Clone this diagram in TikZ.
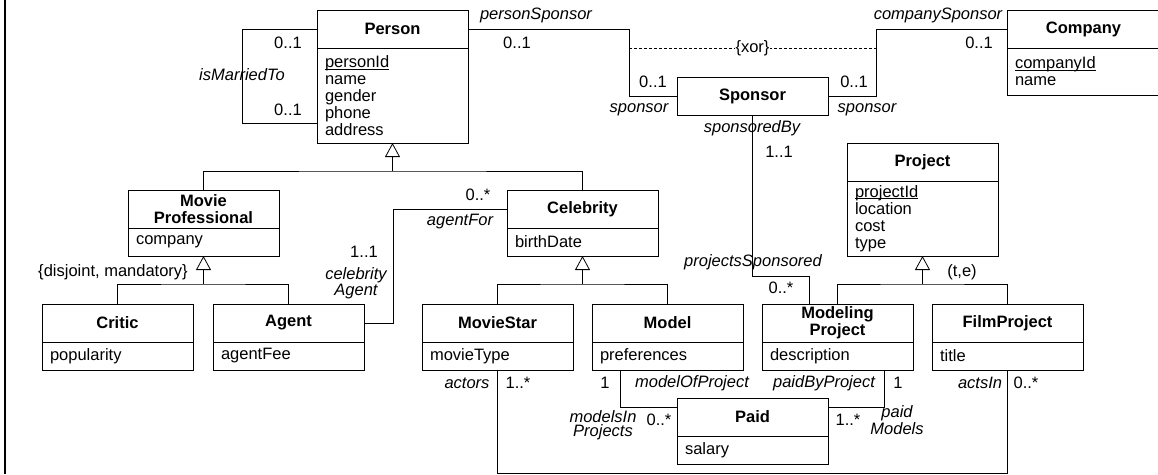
\documentclass[tikz,border=0pt]{standalone}
\usepackage{fontspec}
\setmainfont{Liberation Sans}
\usepackage{tikz}
\usetikzlibrary{arrows.meta,positioning,calc}

\newcommand{\umlfont}{\fontsize{16.5}{17}\selectfont}
\newcommand{\keyattr}[1]{\setbox0\hbox{#1}\rlap{\rule[-2pt]{\wd0}{0.8pt}}\box0}

\begin{document}
\begin{tikzpicture}[x=1pt,y=-1pt,line width=0.8pt,font=\umlfont,
  hdr/.style={draw,outer sep=0pt,inner sep=0pt,font=\umlfont\bfseries,align=center,
    minimum width=151,minimum height=38,anchor=north west},
  attr/.style={draw,outer sep=0pt,inner xsep=8pt,inner ysep=2pt,align=left,
    text width=135pt,minimum height=#1},
  attr/.default=28,
  mult/.style={inner sep=1pt},
  role/.style={font=\umlfont\itshape,inner sep=1pt},
  role2/.style={font=\fontsize{16.5}{14}\selectfont\itshape,align=center,inner sep=0pt},
  gen/.style={-{Triangle[open,length=14pt,width=15pt]}}]

\useasboundingbox (0,0) rectangle (1158,474);

% Frame
\draw[line width=1.5pt] (5,0) -- (5,474);

% Classes
\node[hdr] (person) at (317,10) {Person};
\node[attr=95,below=0pt of person] (personAttr) {\keyattr{personId}\\name\\gender\\phone\\address};
\node[hdr,minimum width=153] (company) at (1007,10) {Company};
\node[attr=47,text width=137pt,below=0pt of company] (companyAttr) {\keyattr{companyId}\\name};
\node[hdr] (sponsor) at (677,77) {Sponsor};
\node[hdr] (moviePro) at (128,190) {Movie\\Professional};
\node[attr,below=0pt of moviePro] (movieProAttr) {company};
\node[hdr] (celebrity) at (507,190) {Celebrity};
\node[attr,below=0pt of celebrity] (celebrityAttr) {birthDate};
\node[hdr] (project) at (847,143) {Project};
\node[attr=75,below=0pt of project] (projectAttr) {\keyattr{projectId}\\location\\cost\\type};
\node[hdr] (critic) at (42,304) {Critic};
\node[attr,below=0pt of critic] (criticAttr) {popularity};
\node[hdr] (agent) at (213,304) {Agent};
\node[attr,below=0pt of agent] (agentAttr) {agentFee};
\node[hdr] (movieStar) at (422,304) {MovieStar};
\node[attr,below=0pt of movieStar] (movieStarAttr) {movieType};
\node[hdr] (model) at (592,304) {Model};
\node[attr,below=0pt of model] (modelAttr) {preferences};
\node[hdr] (modelingProj) at (762,304) {Modeling\\Project};
\node[attr,below=0pt of modelingProj] (modelingProjAttr) {description};
\node[hdr] (filmProj) at (932,304) {FilmProject};
\node[attr,below=0pt of filmProj] (filmProjAttr) {title};
\node[hdr] (paid) at (677,398) {Paid};
\node[attr,below=0pt of paid] (paidAttr) {salary};

% Generalizations
\coordinate (personGen) at ($(personAttr.south)+(0,28)$);
\draw[gen] (personGen) -- (personAttr.south);
\draw (moviePro.north) |- (personGen) -| (celebrity.north);

\coordinate (movieProGen) at ($(movieProAttr.south)+(0,28)$);
\draw[gen] (movieProGen) -- (movieProAttr.south);
\draw (critic.north) |- (movieProGen) -| (agent.north);
\node[mult] (disjMand) at (113,272) {\{disjoint, mandatory\}};

\coordinate (celebrityGen) at ($(celebrityAttr.south)+(0,28)$);
\draw[gen] (celebrityGen) -- (celebrityAttr.south);
\draw (movieStar.north) |- (celebrityGen) -| (model.north);

\coordinate (projectGen) at ($(projectAttr.south)+(0,28)$);
\draw[gen] (projectGen) -- (projectAttr.south);
\draw (modelingProj.north) |- (projectGen) -| (filmProj.north);
\node[mult] (te) at (962,272) {(t,e)};

% isMarriedTo
\coordinate (marriedBend) at ($(person.west)+(-75,0)$);
\draw (person.west) -- (marriedBend) |- ($(personAttr.south west)+(0,-20)$);
\node[mult] (marriedM1) at (288,43) {0..1};
\node[role] (marriedRole) at (242,75) {isMarriedTo};
\node[mult] (marriedM2) at (288,110) {0..1};

% Sponsors
\coordinate (personSpBend) at ($(sponsor.west)+(-48,0)$);
\coordinate (companySpBend) at ($(sponsor.east)+(48,0)$);
\draw (person.east) -| (personSpBend) -- (sponsor.west);
\draw (sponsor.east) -- (companySpBend) |- (company.west);
\draw[dash pattern=on 3pt off 2pt] (personSpBend |- person.south) --
  node[fill=white,inner sep=1pt] (xor) {\{xor\}} (companySpBend |- person.south);
\node[role] (personSpRole) at (536,15) {personSponsor};
\node[mult] (personSpM) at (517,43) {0..1};
\node[mult] (sponsorM1) at (653,82) {0..1};
\node[role] (sponsorRole1) at (639,110) {sponsor};
\node[role] (companySpRole) at (938,15) {companySponsor};
\node[mult] (companySpM) at (979,43) {0..1};
\node[mult] (sponsorM2) at (854,82) {0..1};
\node[role] (sponsorRole2) at (867,110) {sponsor};

% Agent - Celebrity
\coordinate (agentBend) at ($(celebrity.west)+(-114,0)$);
\draw (agent.east) -| (agentBend) -- (celebrity.west);
\node[mult] (agentM) at (364,252) {1..1};
\node[role2] (agentRole) at (356,283) {celebrity\\Agent};
\node[mult] (celebrityM) at (478,195) {0..*};
\node[role] (celebrityRole) at (460,222) {agentFor};

% Sponsor - ModelingProject
\coordinate (sponsorBend) at ($(modelingProj.north)+(-28,-28)$);
\draw (sponsor.south) |- (sponsorBend) -- (sponsorBend |- modelingProj.north);
\node[role] (sponsoredByRole) at (752,128) {sponsoredBy};
\node[mult] (sponsoredByM) at (779,152) {1..1};
\node[role] (projSpRole) at (753,262) {projectsSponsored};
\node[mult] (projSpM) at (781,288) {0..*};

% Paid
\draw ($(modelAttr.south)+(-47,0)$) |- ($(paid.north west)+(0,9)$);
\draw ($(modelingProjAttr.south)+(47,0)$) |- ($(paid.north east)+(0,9)$);
\node[mult] (modelM) at (605,383) {1};
\node[role] (modelRole) at (692,383) {modelOfProject};
\node[role] (paidByRole) at (824,383) {paidByProject};
\node[mult] (projM) at (898,383) {1};
\node[role2] (modelsInRole) at (603,425) {modelsIn\\Projects};
\node[mult] (modelsInM) at (659,420) {0..*};
\node[mult] (paidModelsM) at (848,420) {1..*};
\node[role2] (paidModelsRole) at (897,420) {paid\\Models};

% MovieStar - FilmProject
\draw (movieStarAttr.south) -- ++(0,103) -| (filmProjAttr.south);
\node[role] (actorsRole) at (467,383) {actors};
\node[mult] (actorsM) at (518,383) {1..*};
\node[role] (actsInRole) at (980,383) {actsIn};
\node[mult] (actsInM) at (1026,383) {0..*};

\end{tikzpicture}
\end{document}
